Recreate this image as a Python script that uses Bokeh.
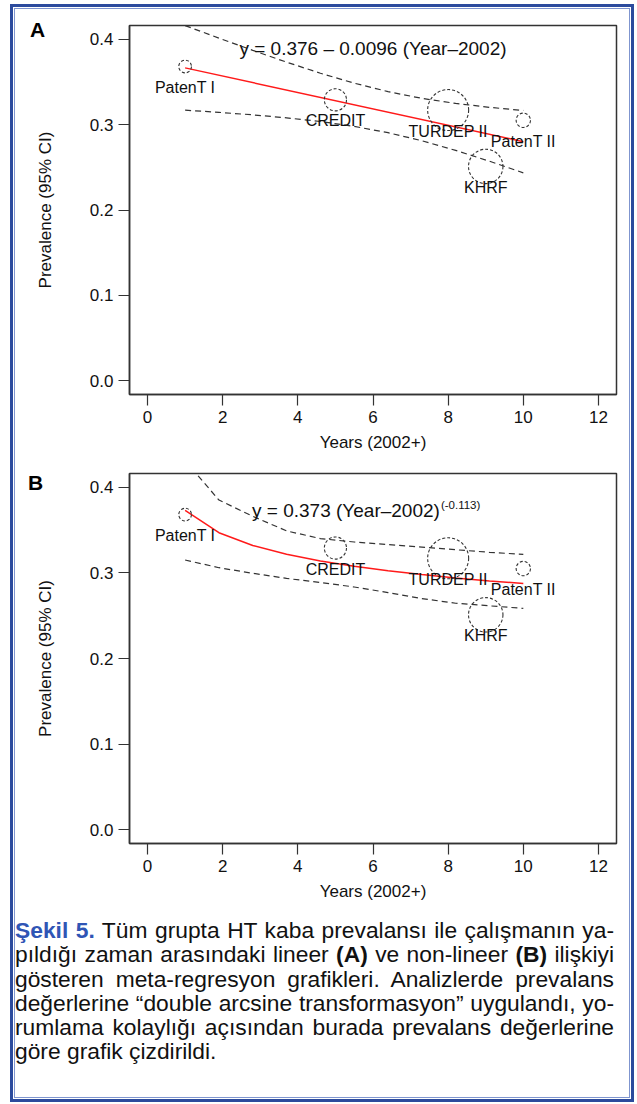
from bokeh.plotting import figure
from bokeh.models import Range1d, FixedTicker, PrintfTickFormatter, Label, Div
from bokeh.layouts import column
from bokeh.embed import file_html
from bokeh.resources import INLINE
from bokeh.core.properties import value

# ---------------- data ----------------
studies = ["PatenT I", "CREDIT", "TURDEP II", "PatenT II", "KHRF"]
years = [1, 5, 8, 10, 9]
prevalence = [0.368, 0.329, 0.317, 0.305, 0.251]
study_weight = [0.31, 0.54, 1.0, 0.35, 0.84]   # relative weights (circle size)

# Panel A: linear meta-regression
lin_x = [1, 10]
lin_y = [0.3664, 0.2800]
grid_x = [1, 1.9, 2.8, 3.7, 4.6, 5.5, 6.4, 7.3, 8.2, 9.1, 10]
lin_upper = [0.4159, 0.4012, 0.3869, 0.3731, 0.3601, 0.3485, 0.3386, 0.3307, 0.3248, 0.3202, 0.3165]
lin_lower = [0.3169, 0.3143, 0.3114, 0.3079, 0.3036, 0.2979, 0.2905, 0.2811, 0.2698, 0.2571, 0.2435]

# Panel B: non-linear (power) meta-regression
pow_y = [0.373, 0.3469, 0.3320, 0.3217, 0.3139, 0.3076, 0.3024, 0.2980, 0.2941, 0.2906, 0.2875]
pow_upper = [0.431, 0.385, 0.366, 0.349, 0.340, 0.336, 0.333, 0.330, 0.327, 0.324, 0.3215]
pow_lower = [0.3150, 0.3060, 0.2995, 0.2935, 0.2888, 0.2835, 0.2770, 0.2700, 0.2645, 0.2615, 0.2585]

x_ticks = [0, 2, 4, 6, 8, 10, 12]
y_ticks = [0.0, 0.1, 0.2, 0.3, 0.4]

FONT = "Liberation Sans"
INK = "#333333"
MAX_DIAM = 41


def panel(fit_x, fit_y, upper, lower, height, top, bottom):
    p = figure(width=614, height=height, output_backend="svg", toolbar_location=None,
               x_range=Range1d(-0.48, 12.48), y_range=Range1d(-0.016, 0.416),
               min_border_left=114, min_border_right=13,
               min_border_top=top, min_border_bottom=bottom)
    p.grid.visible = False
    p.background_fill_color = "white"
    p.border_fill_color = "white"
    p.outline_line_color = INK
    p.outline_line_width = 1.5

    p.xaxis.ticker = FixedTicker(ticks=x_ticks)
    p.yaxis.ticker = FixedTicker(ticks=y_ticks)
    p.yaxis.formatter = PrintfTickFormatter(format="%.1f")
    p.xaxis.axis_label = "Years (2002+)"
    p.yaxis.axis_label = "Prevalence (95% CI)"
    for ax in (p.xaxis[0], p.yaxis[0]):
        ax.major_tick_out = 11
        ax.major_tick_in = 0
        ax.minor_tick_out = 0
        ax.minor_tick_in = 0
        ax.axis_line_color = INK
        ax.axis_line_width = 1.5
        ax.major_tick_line_color = INK
        ax.major_tick_line_width = 1.2
        ax.major_label_text_font = FONT
        ax.major_label_text_font_size = "17px"
        ax.major_label_text_color = "#111111"
        ax.axis_label_text_font = FONT
        ax.axis_label_text_font_size = "17px"
        ax.axis_label_text_font_style = "normal"
        ax.axis_label_text_color = "#111111"
    p.xaxis.major_label_standoff = 5
    p.xaxis.axis_label_standoff = 7
    p.yaxis.major_label_standoff = 5
    p.yaxis.axis_label_standoff = 32

    # confidence band (dashed)
    p.line(grid_x, upper, line_color=INK, line_dash="6 4", line_width=1.2)
    p.line(grid_x, lower, line_color=INK, line_dash="6 4", line_width=1.2)
    # fitted line
    p.line(fit_x, fit_y, line_color="#ff1a1a", line_width=1.5)
    # study circles
    sizes = [w * MAX_DIAM for w in study_weight]
    p.scatter(years, prevalence, size=sizes, marker="circle", fill_alpha=0,
              line_color=INK, line_width=1.1, line_dash="3 2")
    p.text(years, prevalence, text=studies, text_font=value(FONT), text_font_size="16px",
           text_align="center", text_baseline="middle", y_offset=21, text_color="#111111")
    return p


pA = panel(lin_x, lin_y, lin_upper, lin_lower, 449, 16, 64)
pA.add_layout(Label(x=6, y=0.3895, text="y = 0.376 \u2013 0.0096 (Year\u20132002)", text_font=FONT,
                    text_font_size="19px", text_align="center", text_baseline="middle",
                    text_color="#111111"))

pB = panel(grid_x, pow_y, pow_upper, pow_lower, 448, 15, 63)
pB.add_layout(Label(x=7.78, y=0.3725, text="y = 0.373 (Year\u20132002)", text_font=FONT,
                    text_font_size="19px", text_align="right", text_baseline="middle",
                    text_color="#111111"))
pB.add_layout(Label(x=7.78, y=0.3725, x_offset=1, y_offset=6, text="(-0.113)", text_font=FONT,
                    text_font_size="11.5px", text_align="left", text_baseline="middle",
                    text_color="#111111"))

caption_lines = [
    "<b style='color:#2f55b5'>\u015eekil 5.</b> T\u00fcm grupta HT kaba prevalans\u0131 ile \u00e7al\u0131\u015fman\u0131n ya-",
    "p\u0131ld\u0131\u011f\u0131 zaman aras\u0131ndaki lineer <b>(A)</b> ve non-lineer <b>(B)</b> ili\u015fkiyi",
    "g\u00f6steren meta-regresyon grafikleri. Analizlerde prevalans",
    "de\u011ferlerine \u201cdouble arcsine transformasyon\u201d uyguland\u0131, yo-",
    "rumlama kolayl\u0131\u011f\u0131 a\u00e7\u0131s\u0131ndan burada prevalans de\u011ferlerine",
    "g\u00f6re grafik \u00e7izdirildi.",
]
parts = []
for i, ln in enumerate(caption_lines):
    last = "left" if i == len(caption_lines) - 1 else "justify"
    parts.append(f"<div style='text-align:justify;text-align-last:{last};'>{ln}</div>")
caption_html = ("<div style=\"font-family:'Liberation Sans',Arial,sans-serif;font-size:22.8px;"
                "line-height:24.3px;color:#111111;padding-top:12px;width:599px;\">"
                + "".join(parts) + "</div>")
cap = Div(text=caption_html, width=600, height=191, margin=(0, 0, 0, 0))


def panel_letter(letter, left, top):
    html = ("<div style=\"font-family:'Liberation Sans',Arial,sans-serif;font-weight:bold;"
            f"font-size:21px;line-height:21px;color:#000000;\">{letter}</div>")
    return Div(text=html, width=24, height=24, margin=(0, 0, 0, 0),
               styles={"position": "absolute", "left": f"{left}px", "top": f"{top}px",
                       "z-index": "10"})


letA = panel_letter("A", 15, 10)
letB = panel_letter("B", 13, 463)

layout = column(pA, pB, cap, letA, letB, margin=(8, 0, 0, 14),
                styles={"border": "1px solid #7f95cf", "outline": "3px solid #2c4b9d",
                        "outline-offset": "1px", "background": "white",
                        "position": "relative"})

open("out.html", "w").write(file_html(layout, INLINE))
